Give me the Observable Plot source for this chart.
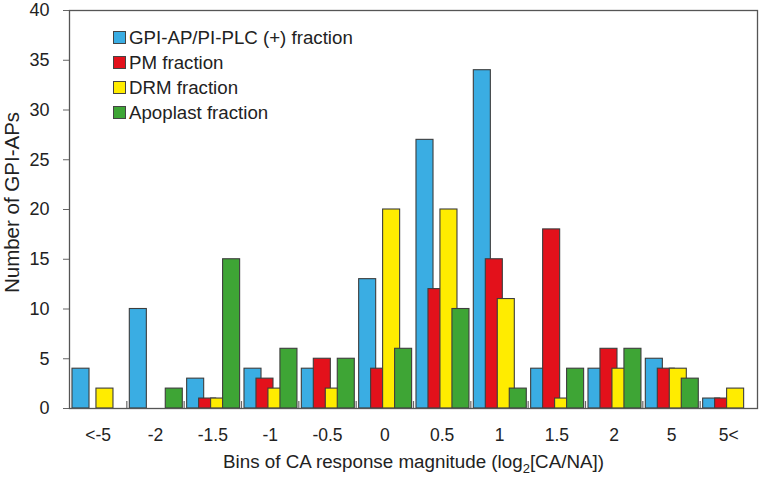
<!DOCTYPE html>
<html>
<head>
<meta charset="utf-8">
<script src="https://cdn.jsdelivr.net/npm/d3@7"></script>
<script src="https://cdn.jsdelivr.net/npm/@observablehq/plot@0.6"></script>
<style>
  html, body { margin: 0; padding: 0; background: #fff; }
  #wrap { position: relative; width: 760px; height: 482px; font-family: "Liberation Sans", Arial, sans-serif; }
  #legend { position: absolute; left: 113px; top: 25px; color: #222; font-size: 18.7px; }
  .row { display: flex; align-items: center; height: 25px; }
  .sw { width: 13px; height: 13px; border: 1px solid #444; margin-right: 3px; box-sizing: border-box; }
</style>
</head>
<body>
<div id="wrap"><div id="legend"></div></div>
<script>
const categories = ["<-5", "-2", "-1.5", "-1", "-0.5", "0", "0.5", "1", "1.5", "2", "5", "5<"];
const seriesNames = ["GPI-AP/PI-PLC (+) fraction", "PM fraction", "DRM fraction", "Apoplast fraction"];
const seriesColors = ["#3aade3", "#e3111b", "#ffec00", "#3ea535"];
const gpiPlc =   [4, 10, 3, 4, 4, 13, 27, 34, 4, 4, 5, 1];
const pm =       [0, 0, 1, 3, 5, 4, 12, 15, 18, 6, 4, 1];
const drm =      [2, 0, 1, 2, 2, 20, 20, 11, 1, 4, 4, 2];
const apoplast = [0, 2, 15, 6, 5, 6, 10, 2, 4, 6, 3, 0];
const yTicks = [0, 5, 10, 15, 20, 25, 30, 35, 40];
const xTitle = "Bins of CA response magnitude (log₂[CA/NA])";
const yTitle = "Number of GPI-APs";

const seriesValues = [gpiPlc, pm, drm, apoplast];
const data = [];
categories.forEach((c, ci) => {
  seriesValues.forEach((vals, si) => {
    if (vals[ci] > 0) data.push({ci, si, cat: c, series: seriesNames[si], value: vals[ci]});
  });
});

// layout within each category band (in band units)
const start = 0.052, step = 0.209, barW = 0.297;

const chart = Plot.plot({
  width: 760,
  height: 482,
  marginLeft: 69,
  marginRight: 3,
  marginTop: 10,
  marginBottom: 74,
  style: { fontFamily: "'Liberation Sans', Arial, sans-serif", fontSize: "18px", color: "#222", background: "transparent" },
  x: { type: "linear", domain: [0, categories.length] },
  y: { domain: [0, 40] },
  color: { domain: seriesNames, range: seriesColors },
  marks: [
    Plot.rectY(data, {
      x1: d => d.ci + start + d.si * step,
      x2: d => d.ci + start + d.si * step + barW,
      y1: 0,
      y2: "value",
      fill: "series",
      stroke: "#3d3d3d",
      strokeWidth: 1.1
    }),
    Plot.ruleX(d3.range(1, categories.length), { y1: 0, y2: 0.7, stroke: "#666", strokeWidth: 1.2 }),
    Plot.axisX(categories.map((c, i) => i + 0.5), {
      tickSize: 0, tickPadding: 20, tickFormat: v => categories[Math.floor(v)],
      fontSize: 17.5, label: null
    }),
    Plot.axisY(yTicks, {
      tickSize: 6, tickPadding: 14, stroke: "#666", fontSize: 18,
      label: null
    }),
    Plot.text([yTitle], {
      text: d => d, frameAnchor: "left", textAnchor: "middle", dx: -57, dy: -7, rotate: -90,
      fontSize: 20.5, fill: "#222"
    }),
    Plot.text([xTitle], {
      text: d => d, frameAnchor: "bottom", dy: 59,
      fontSize: 18.8, fill: "#222"
    }),
    Plot.frame({ stroke: "#555", strokeWidth: 1.3 })
  ]
});

document.getElementById("wrap").prepend(chart);

// render subscript in the x title
d3.select(chart).selectAll("text").each(function () {
  const t = d3.select(this);
  if (t.text() === xTitle) {
    const [a, b] = xTitle.split("₂");
    t.text(null);
    t.append("tspan").text(a);
    t.append("tspan").attr("dy", 5).attr("font-size", 13).text("2");
    t.append("tspan").attr("dy", -5).text(b);
  }
});

const legend = d3.select("#legend");
seriesNames.forEach((n, i) => {
  const row = legend.append("div").attr("class", "row");
  row.append("div").attr("class", "sw").style("background", seriesColors[i]);
  row.append("span").text(n);
});
</script>
</body>
</html>
